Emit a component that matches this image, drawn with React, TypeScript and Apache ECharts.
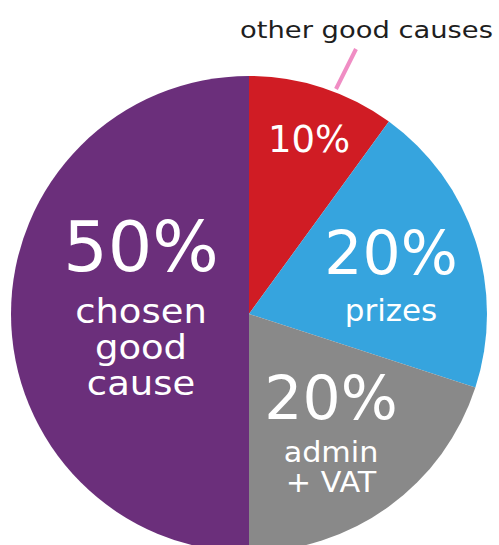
import React, { useEffect, useRef } from "react";
import * as echarts from "echarts";

const categories = ["other good causes", "prizes", "admin + VAT", "chosen good cause"];
const values = [10, 20, 20, 50];
const colors = ["#D01C24", "#36A4DE", "#898989", "#6B2F7B"];
const sliceLabelLines = [[], ["prizes"], ["admin", "+ VAT"], ["chosen", "good", "cause"]];

export default function App() {
  const ref = useRef<HTMLDivElement>(null);
  useEffect(() => {
    document.body.style.margin = "0";
    if (!ref.current) return;
    const chart = echarts.init(ref.current, null, { renderer: "svg" });
    const font = "DejaVu Sans";
    const off = (s: number) => Math.round(s * 0.13);

    const layouts = [
      { cx: 309, pctBase: 153, pctSize: 37, wordSize: 30, scale: 1, firstBase: 0, step: 0 },
      { cx: 391, pctBase: 275, pctSize: 60, wordSize: 31, scale: 1, firstBase: 321, step: 0 },
      { cx: 331, pctBase: 420, pctSize: 60, wordSize: 28, scale: 1.08, firstBase: 462, step: 30 },
      { cx: 141, pctBase: 273, pctSize: 70, wordSize: 33, scale: 1.12, firstBase: 324, step: 36 },
    ];

    const graphics: any[] = [];
    values.forEach((v, i) => {
      const L = layouts[i];
      graphics.push({
        type: "text",
        x: L.cx,
        y: L.pctBase + off(L.pctSize),
        z: 100,
        silent: true,
        style: {
          text: v + "%",
          fill: "#ffffff",
          font: `${L.pctSize}px "${font}"`,
          align: "center",
          verticalAlign: "bottom",
        },
      });
      sliceLabelLines[i].forEach((w, j) => {
        graphics.push({
          type: "text",
          x: L.cx,
          y: L.firstBase + j * L.step + off(L.wordSize),
          scaleX: L.scale,
          z: 100,
          silent: true,
          style: {
            text: w,
            fill: "#ffffff",
            font: `${L.wordSize}px "${font}"`,
            align: "center",
            verticalAlign: "bottom",
          },
        });
      });
    });

    graphics.push({
      type: "line",
      z: 100,
      silent: true,
      shape: { x1: 336, y1: 89, x2: 356, y2: 49 },
      style: { stroke: "#F08DC4", lineWidth: 4 },
    });
    graphics.push({
      type: "text",
      x: 240,
      y: 39 + off(23),
      z: 100,
      scaleX: 1.19,
      silent: true,
      style: {
        text: categories[0],
        fill: "#1e1e1e",
        font: `23px "${font}"`,
        align: "left",
        verticalAlign: "bottom",
      },
    });

    chart.setOption({
      animation: false,
      series: [
        {
          type: "pie",
          center: [249, 314],
          radius: 238,
          startAngle: 90,
          clockwise: true,
          silent: true,
          z: 1,
          label: { show: false },
          labelLine: { show: false },
          emphasis: { disabled: true },
          itemStyle: { borderWidth: 0 },
          data: categories.map((c, i) => ({ name: c, value: values[i], itemStyle: { color: colors[i] } })),
        },
      ],
      graphic: { elements: graphics },
    });
    return () => chart.dispose();
  }, []);
  return <div ref={ref} style={{ width: 499, height: 545 }} />;
}
